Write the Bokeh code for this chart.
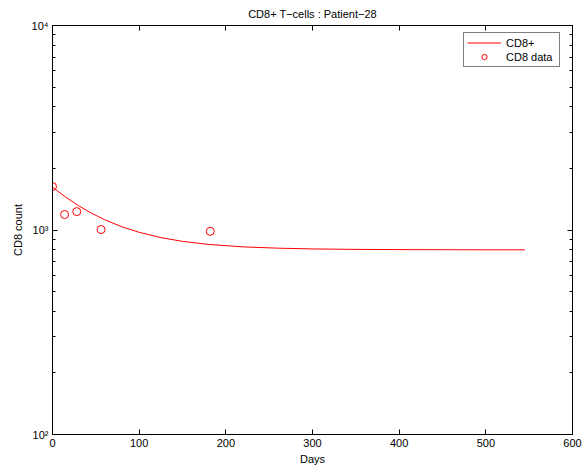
from bokeh.plotting import figure
from bokeh.models import LogAxis, LinearAxis, Legend, LegendItem, LogTicker, FixedTicker, ColumnDataSource
from bokeh.embed import file_html
from bokeh.resources import INLINE

# Model curve
curve_days = [0, 15, 30, 45, 60, 80, 100, 125, 150, 180, 220, 260, 300, 350, 400, 450, 500, 545]
curve_cd8 = [1620, 1450, 1315, 1208, 1124, 1037, 974, 918, 880, 850, 827, 815, 808, 804, 802, 801, 800, 800]

# Measured data
data_days = [0, 14, 28, 56, 182]
data_cd8 = [1630, 1190, 1230, 1005, 985]

x_ticks = [0, 100, 200, 300, 400, 500, 600]
y_decades = [100, 1000, 10000]
y_tick_labels = ["10\u00b2", "10\u00b3", "10\u2074"]

FONT = "Liberation Sans"

p = figure(width=585, height=468, x_range=(0, 600), y_range=(100, 10000),
           y_axis_type="log", output_backend="svg", toolbar_location=None,
           min_border_left=52, min_border_right=13, min_border_top=25, min_border_bottom=34)
p.background_fill_color = "white"
p.border_fill_color = "white"
p.outline_line_color = "black"
p.outline_line_width = 1
p.xgrid.visible = False
p.ygrid.visible = False

p.title.text = "CD8+ T\u2212cells : Patient\u221228"
p.title.align = "center"
p.title.vertical_align = "top"
p.title.text_font = FONT
p.title.text_font_size = "11px"
p.title.text_font_style = "normal"
p.title.text_color = "black"
p.title.standoff = 8
p.title.offset = 0

# bottom axis
xa = p.xaxis[0]
xa.ticker = FixedTicker(ticks=x_ticks)
xa.axis_label = "Days"
xa.axis_label_text_font = FONT
xa.axis_label_text_font_size = "11px"
xa.axis_label_text_font_style = "normal"
xa.axis_label_text_color = "black"
xa.axis_label_standoff = 3
xa.major_label_text_font = FONT
xa.major_label_text_font_size = "11px"
xa.major_label_text_color = "black"
xa.major_label_standoff = 4
xa.major_tick_in = 5
xa.major_tick_out = 0
xa.minor_tick_line_color = None
xa.axis_line_color = "black"

# left axis
ya = p.yaxis[0]
ya.ticker = LogTicker(num_minor_ticks=10)
ya.major_label_overrides = {d: t for d, t in zip(y_decades, y_tick_labels)}
ya.axis_label = "CD8 count"
ya.axis_label_text_font = FONT
ya.axis_label_text_font_size = "11px"
ya.axis_label_text_font_style = "normal"
ya.axis_label_text_color = "black"
ya.major_label_text_font = FONT
ya.major_label_text_font_size = "11px"
ya.major_label_text_color = "black"
ya.major_label_standoff = 4
ya.axis_label_standoff = 5
ya.major_tick_in = 5
ya.major_tick_out = 0
ya.minor_tick_in = 3
ya.minor_tick_out = 0
ya.axis_line_color = "black"

# right and top box axes
ra = LogAxis(ticker=LogTicker(num_minor_ticks=10), major_label_text_font_size="1px",
             major_label_text_color=None,
             major_label_standoff=0, major_tick_in=5, major_tick_out=0,
             minor_tick_in=3, minor_tick_out=0)
p.add_layout(ra, "right")
ta = LinearAxis(ticker=FixedTicker(ticks=x_ticks), major_label_text_font_size="1px",
                major_label_text_color=None,
                major_label_standoff=0, major_tick_in=5, major_tick_out=0,
                minor_tick_line_color=None)
p.add_layout(ta, "above")

src_c = ColumnDataSource(dict(x=curve_days, y=curve_cd8))
src_d = ColumnDataSource(dict(x=data_days, y=data_cd8))
r1 = p.line("x", "y", source=src_c, line_color="#ff0000", line_width=1)
r2 = p.scatter("x", "y", source=src_d, marker="circle", size=8, fill_color=None,
               line_color="#ff0000", line_width=1)

legend = Legend(items=[LegendItem(label="CD8+", renderers=[r1]),
                       LegendItem(label="CD8 data", renderers=[r2])],
                location=(411, 367), orientation="vertical")
legend.label_text_font = FONT
legend.label_text_font_size = "11px"
legend.label_text_color = "black"
legend.glyph_width = 34
legend.glyph_height = 13
legend.label_height = 13
legend.label_width = 50
legend.label_standoff = 5
legend.spacing = 1
legend.padding = 3
legend.margin = 0
legend.border_line_color = "black"
legend.border_line_width = 1
legend.background_fill_color = "white"
legend.background_fill_alpha = 1
p.add_layout(legend)

open("out.html", "w").write(file_html(p, INLINE))
